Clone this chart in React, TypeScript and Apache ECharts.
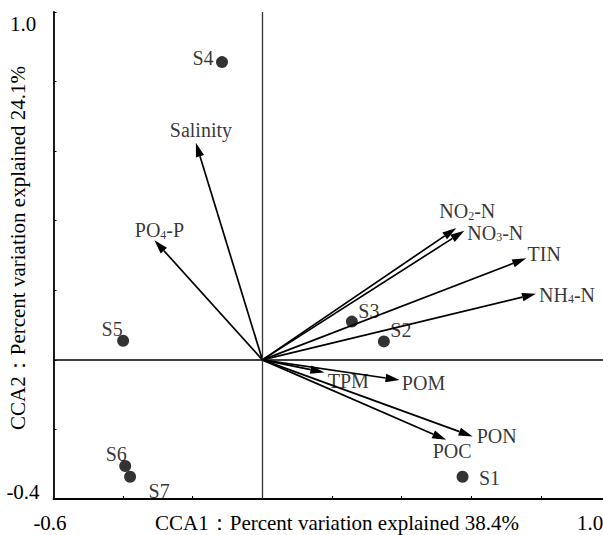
import React, { useEffect, useRef } from "react";
import * as echarts from "echarts";

// Sites (CCA sample scores)
const siteNames = ["S1", "S2", "S3", "S4", "S5", "S6", "S7"];
const siteX = [0.575, 0.349, 0.257, -0.116, -0.4, -0.394, -0.38];
const siteY = [-0.336, 0.053, 0.11, 0.856, 0.055, -0.305, -0.336];

// Environmental variables (arrow tips)
const envNames = ["NO2-N", "NO3-N", "TIN", "NH4-N", "Salinity", "PO4-P", "TPM", "POM", "PON", "POC"];
const envLabels = ["NO{s|2}-N", "NO{s|3}-N", "TIN", "NH{s|4}-N", "Salinity", "PO{s|4}-P", "TPM", "POM", "PON", "POC"];
const envX = [0.557, 0.58, 0.758, 0.786, -0.191, -0.31, 0.178, 0.394, 0.604, 0.528];
const envY = [0.379, 0.371, 0.292, 0.19, 0.624, 0.344, -0.036, -0.058, -0.22, -0.23];

const xTickLabels = ["-0.6", "1.0"];
const yTickLabels = ["-0.4", "1.0"];
const xTitle = "CCA1：Percent variation explained 38.4%";
const yTitle = "CCA2：Percent variation explained 24.1%";

// label placement (pixel offsets of label centre from the mark)
const siteLabelOffsets: Record<string, [number, number]> = {
  S1: [27, 1],
  S2: [17, -11],
  S3: [17, -11],
  S4: [-19, -4],
  S5: [-11, -12],
  S6: [-9, -12],
  S7: [29, 14],
};
const envLabelOffsets: Record<string, [number, number]> = {
  "NO2-N": [11, -17],
  "NO3-N": [31, 2],
  TIN: [18, -4],
  "NH4-N": [31, 1],
  Salinity: [5, -13],
  "PO4-P": [5, -10],
  TPM: [24, 9],
  POM: [24, 3],
  PON: [24, 0],
  POC: [6, 11],
};

const FONT = "'Liberation Serif', 'Times New Roman', serif";

export default function App() {
  const ref = useRef<HTMLDivElement>(null);
  useEffect(() => {
    if (!ref.current) return;
    const chart = echarts.init(ref.current, undefined, { renderer: "svg" });
    const richStyle = {
      s: { fontSize: 12, fontFamily: FONT, color: "#000", padding: [9, 0, 0, 0] },
    };
    const option: any = {
      animation: false,
      backgroundColor: "#fff",
      grid: { left: 53.5, top: 12, width: 557, height: 487 },
      xAxis: {
        type: "value",
        min: -0.6,
        max: 1.0,
        interval: 0.2,
        splitLine: { show: false },
        axisLine: { onZero: false, lineStyle: { color: "#000", width: 1.8 } },
        axisTick: { show: true, inside: true, length: 3, lineStyle: { color: "#000", width: 1 } },
        axisLabel: { show: false },
      },
      yAxis: {
        type: "value",
        min: -0.4,
        max: 1.0,
        interval: 0.2,
        splitLine: { show: false },
        axisLine: { onZero: false, lineStyle: { color: "#000", width: 1.8 } },
        axisTick: { show: true, inside: true, length: 3, lineStyle: { color: "#000", width: 1 } },
        axisLabel: { show: false },
      },
      graphic: [
        { type: "text", x: 23, y: 24, style: { text: yTickLabels[1], font: `21px ${FONT}`, fill: "#000", align: "center", verticalAlign: "middle" } },
        { type: "text", x: 23, y: 492, style: { text: yTickLabels[0], font: `21px ${FONT}`, fill: "#000", align: "center", verticalAlign: "middle" } },
        { type: "text", x: 50, y: 523, style: { text: xTickLabels[0], font: `21px ${FONT}`, fill: "#000", align: "center", verticalAlign: "middle" } },
        { type: "text", x: 590, y: 523, style: { text: xTickLabels[1], font: `21px ${FONT}`, fill: "#000", align: "center", verticalAlign: "middle" } },
        { type: "text", x: 337, y: 523, style: { text: xTitle, font: `21px ${FONT}`, fill: "#000", align: "center", verticalAlign: "middle" } },
        { type: "text", x: 18, y: 248, rotation: Math.PI / 2, style: { text: yTitle, font: `21px ${FONT}`, fill: "#000", align: "center", verticalAlign: "middle" } },
      ],
      series: [
        {
          type: "custom",
          coordinateSystem: "cartesian2d",
          data: envNames.map((n, i) => [envX[i], envY[i]]),
          renderItem: (params: any, api: any) => {
            const o = api.coord([0, 0]);
            const t = api.coord([api.value(0), api.value(1)]);
            const dx = t[0] - o[0];
            const dy = t[1] - o[1];
            const len = Math.sqrt(dx * dx + dy * dy);
            const ux = dx / len;
            const uy = dy / len;
            const hl = 14;
            const hw = 4.2;
            const bx = t[0] - ux * hl;
            const by = t[1] - uy * hl;
            return {
              type: "group",
              children: [
                { type: "line", shape: { x1: o[0], y1: o[1], x2: bx, y2: by }, style: { stroke: "#000", lineWidth: 1.7 } },
                {
                  type: "polygon",
                  shape: { points: [[t[0], t[1]], [bx - uy * hw, by + ux * hw], [bx + uy * hw, by - ux * hw]] },
                  style: { fill: "#000" },
                },
              ],
            };
          },
          silent: true,
          z: 3,
        },
        {
          type: "scatter",
          symbolSize: 0,
          silent: true,
          data: envNames.map((n, i) => ({
            value: [envX[i], envY[i]],
            label: { offset: envLabelOffsets[n] },
          })),
          label: {
            show: true,
            position: "inside",
            formatter: (p: any) => envLabels[p.dataIndex],
            fontFamily: FONT,
            fontSize: 20,
            color: "#000",
            rich: richStyle,
          },
          z: 4,
        },
        {
          type: "scatter",
          symbol: "circle",
          symbolSize: 12,
          itemStyle: { color: "#000" },
          silent: true,
          data: siteNames.map((n, i) => ({
            value: [siteX[i], siteY[i]],
            label: { offset: siteLabelOffsets[n] },
          })),
          label: {
            show: true,
            position: "inside",
            formatter: (p: any) => siteNames[p.dataIndex],
            fontFamily: FONT,
            fontSize: 20,
            color: "#000",
          },
          markLine: {
            silent: true,
            symbol: ["none", "none"],
            label: { show: false },
            animation: false,
            data: [
              { xAxis: 0, lineStyle: { color: "#333", width: 1.3, type: "solid" } },
              { yAxis: 0, lineStyle: { color: "#000", width: 1.5, type: "solid" } },
            ],
          },
          z: 5,
        },
      ],
    };
    chart.setOption(option);
    return () => chart.dispose();
  }, []);
  return (
    <div style={{ position: "absolute", left: 0, top: 0, width: 603, height: 535, overflow: "hidden" }}>
      <div ref={ref} style={{ width: 620, height: 535 }} />
    </div>
  );
}
